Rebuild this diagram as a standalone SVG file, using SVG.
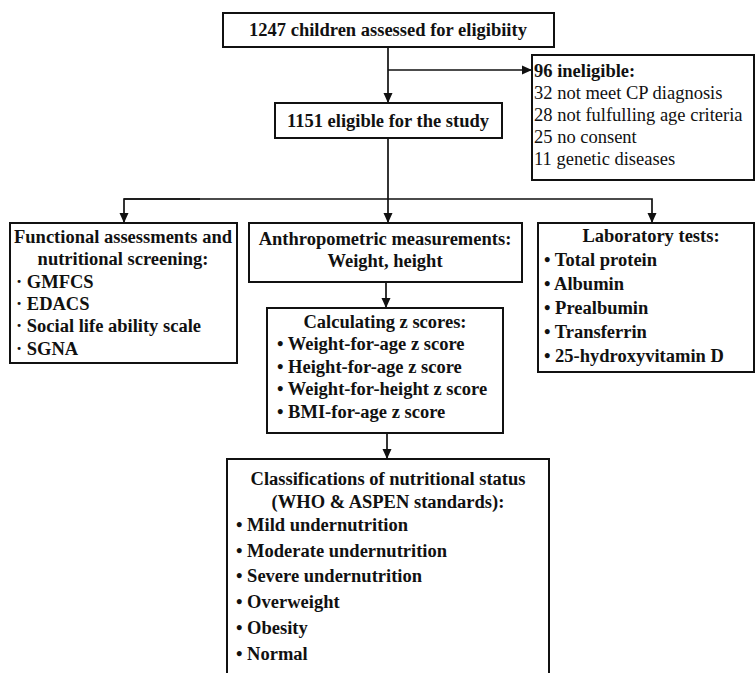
<svg xmlns="http://www.w3.org/2000/svg" width="756" height="673" viewBox="0 0 756 673">
<defs>
<marker id="ah" viewBox="0 0 10 10" refX="10" refY="5" markerWidth="10" markerHeight="10" markerUnits="userSpaceOnUse" orient="auto">
<path d="M0,0.5 L10,5 L0,9.5 Z" fill="#111"/>
</marker>
<style>
.box{fill:#fff;stroke:#111;stroke-width:2}
.ln{fill:none;stroke:#111;stroke-width:1.7}
text{font-family:"Liberation Serif","Times New Roman",serif;font-size:18.5px;fill:#111}
.b{font-weight:bold}
.c{text-anchor:middle}
</style>
</defs>
<rect width="756" height="673" fill="#fff"/>
<g id="connectors">
<line class="ln" x1="388" y1="47" x2="388" y2="103" marker-end="url(#ah)"/>
<line class="ln" x1="388" y1="70" x2="532" y2="70" marker-end="url(#ah)"/>
<line class="ln" x1="388" y1="138" x2="388" y2="223" marker-end="url(#ah)"/>
<polyline class="ln" points="124,199 652,199 652,223" marker-end="url(#ah)"/>
<polyline class="ln" points="200,199 124,199 124,223" marker-end="url(#ah)"/>
<line class="ln" x1="386" y1="282" x2="386" y2="308" marker-end="url(#ah)"/>
<line class="ln" x1="387" y1="433" x2="387" y2="459" marker-end="url(#ah)"/>
</g>
<g id="assessed">
<rect class="box" x="223" y="13" width="331" height="34"/>
<text class="b c" x="388" y="36">1247 children assessed for eligibiity</text>
</g>
<g id="ineligible">
<rect class="box" x="532" y="55" width="222" height="125"/>
<text class="b" x="534" y="77">96 ineligible:</text>
<text x="534" y="99">32 not meet CP diagnosis</text>
<text x="534" y="121">28 not fulfulling age criteria</text>
<text x="534" y="143">25 no consent</text>
<text x="534" y="165">11 genetic diseases</text>
</g>
<g id="eligible">
<rect class="box" x="275" y="103" width="227" height="35"/>
<text class="b c" x="388" y="127">1151 eligible for the study</text>
</g>
<g id="functional">
<rect class="box" x="10" y="223" width="227" height="140"/>
<text class="b c" x="123" y="243">Functional assessments and</text>
<text class="b c" x="123" y="265">nutritional screening:</text>
<text class="b" x="16" y="288">· GMFCS</text>
<text class="b" x="16" y="310">· EDACS</text>
<text class="b" x="16" y="332">· Social life ability scale</text>
<text class="b" x="16" y="355">· SGNA</text>
</g>
<g id="anthropometric">
<rect class="box" x="249" y="223" width="273" height="59"/>
<text class="b c" x="385" y="245">Anthropometric measurements:</text>
<text class="b c" x="385" y="267">Weight, height</text>
</g>
<g id="laboratory">
<rect class="box" x="538" y="223" width="216" height="149"/>
<text class="b c" x="651" y="242">Laboratory tests:</text>
<text class="b" x="544" y="266">• Total protein</text>
<text class="b" x="544" y="290">• Albumin</text>
<text class="b" x="544" y="314">• Prealbumin</text>
<text class="b" x="544" y="338">• Transferrin</text>
<text class="b" x="544" y="362">• 25-hydroxyvitamin D</text>
</g>
<g id="zscores">
<rect class="box" x="267" y="308" width="236" height="125"/>
<text class="b c" x="385" y="328">Calculating z scores:</text>
<text class="b" x="277" y="350">• Weight-for-age z score</text>
<text class="b" x="277" y="373">• Height-for-age z score</text>
<text class="b" x="277" y="395">• Weight-for-height z score</text>
<text class="b" x="277" y="418">• BMI-for-age z score</text>
</g>
<g id="classification">
<rect class="box" x="227" y="459" width="322" height="230"/>
<text class="b c" x="388" y="485">Classifications of nutritional status</text>
<text class="b c" x="388" y="508">(WHO &amp; ASPEN standards):</text>
<text class="b" x="236" y="531">• Mild undernutrition</text>
<text class="b" x="236" y="557">• Moderate undernutrition</text>
<text class="b" x="236" y="582">• Severe undernutrition</text>
<text class="b" x="236" y="608">• Overweight</text>
<text class="b" x="236" y="634">• Obesity</text>
<text class="b" x="236" y="660">• Normal</text>
</g>
</svg>
